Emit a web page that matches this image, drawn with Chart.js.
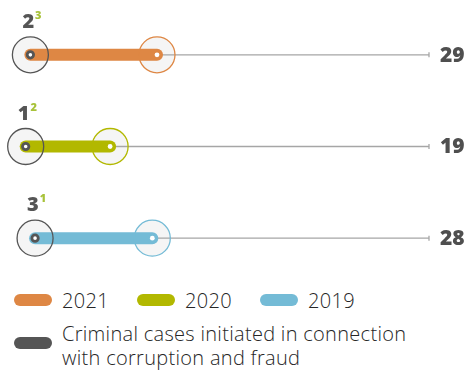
<!DOCTYPE html>
<html>
<head>
<meta charset="utf-8">
<script src="https://cdn.jsdelivr.net/npm/chart.js@4"></script>
<style>
  body { margin: 0; background: #fff; font-family: "Open Sans", "Noto Sans", sans-serif; }
  #wrap { position: relative; width: 470px; height: 284px; }
  #legend { position: absolute; left: 0; top: 284px; width: 470px; }
  .item { position: absolute; display: flex; align-items: flex-start; color: #262626; font-size: 20px; font-weight: 300; line-height: 24px; letter-spacing: 0.3px; }
  .pill { width: 38px; height: 12px; border-radius: 6px; margin-right: 10px; flex: none; }
  .txt { white-space: pre-line; }
</style>
</head>
<body>
<div id="wrap"><canvas id="chart"></canvas></div>
<div id="legend"></div>
<script>
// years shown top to bottom
var years = ['2021', '2020', '2019'];
// total cases per year (thick bar end, number at the right)
var totals = [29, 19, 28];
// criminal cases initiated in connection with corruption and fraud
var criminal = [2, 1, 3];
// footnote markers next to the criminal case counts
var footnotes = ['3', '2', '1'];
var criminalLabel = 'Criminal cases initiated in connection\nwith corruption and fraud';

var yearColors = ['#de8744', '#b2b800', '#74bbd6'];
var darkColor = '#555555';
var lineColor = '#a6a6a6';
var noteColor = '#a8c23a';
var AXIS_MAX = 87;

var datasets = [];
for (var i = 0; i < years.length; i++) {
  var y = years[i];
  var start = { x: criminal[i], y: y };
  var end = { x: totals[i], y: y };

  // faint disc behind the two rings
  datasets.push({
    data: [start, end], showLine: false, clip: false, order: 9,
    pointRadius: 18, pointBorderWidth: 0,
    pointBackgroundColor: 'rgba(225,225,225,0.35)'
  });
  // thin grey guide to the right
  datasets.push({
    data: [end, { x: AXIS_MAX, y: y }], clip: false, order: 8,
    borderColor: lineColor, borderWidth: 1.3,
    pointRadius: [0, 2.5], pointStyle: 'line', rotation: 90,
    pointBorderColor: lineColor, pointBorderWidth: 1.3
  });
  // thick rounded bar from criminal cases to the total
  datasets.push({
    data: [start, end], clip: false, order: 7,
    borderColor: yearColors[i], borderWidth: 12, borderCapStyle: 'round',
    pointRadius: 0
  });
  // ring outlines
  datasets.push({
    data: [start, end], showLine: false, clip: false, order: 6,
    pointRadius: 18, pointBorderWidth: 1.3,
    pointBorderColor: [darkColor, yearColors[i]],
    pointBackgroundColor: 'rgba(0,0,0,0)'
  });
  // inner dots
  datasets.push({
    data: [start, end], showLine: false, clip: false, order: 5,
    pointRadius: [3.2, 2.4], pointBorderWidth: [2.8, 0],
    pointBorderColor: [darkColor, '#fff'],
    pointBackgroundColor: '#fff'
  });
}

// criminal case counts above the rings and totals at the right
var textPlugin = {
  id: 'rowText',
  afterDatasetsDraw: function (chart) {
    var ctx = chart.ctx;
    var xs = chart.scales.x, ys = chart.scales.y;
    ctx.save();
    for (var i = 0; i < years.length; i++) {
      var cy = ys.getPixelForValue(i);
      var cx = xs.getPixelForValue(criminal[i]);
      ctx.textBaseline = 'alphabetic';
      ctx.textAlign = 'left';
      ctx.fillStyle = darkColor;
      ctx.font = '800 20px "Open Sans", sans-serif';
      var txt = String(criminal[i]);
      var w = ctx.measureText(txt).width;
      ctx.fillText(txt, cx - 8, cy - 27);
      ctx.fillStyle = noteColor;
      ctx.font = '800 11px "Open Sans", sans-serif';
      ctx.fillText(footnotes[i], cx - 8 + w + 1, cy - 36);

      ctx.fillStyle = '#4f4f4f';
      ctx.font = '800 21px "Open Sans", sans-serif';
      ctx.textBaseline = 'middle';
      ctx.fillText(String(totals[i]), chart.chartArea.right + 11, cy + 1);
    }
    ctx.restore();
  }
};

var chart = new Chart(document.getElementById('chart').getContext('2d'), {
  type: 'line',
  data: { datasets: datasets },
  options: {
    responsive: true,
    maintainAspectRatio: false,
    animation: false,
    layout: { autoPadding: false, padding: { left: 21, right: 41, top: 9, bottom: 0 } },
    scales: {
      x: { type: 'linear', min: 0, max: AXIS_MAX, display: false },
      y: { type: 'category', labels: years, offset: true, display: false }
    },
    plugins: { legend: { display: false }, tooltip: { enabled: false } }
  },
  plugins: [textPlugin]
});

// legend below the chart
var legend = document.getElementById('legend');
var legendItems = [];
for (var j = 0; j < years.length; j++) {
  legendItems.push({ text: years[j], color: yearColors[j], left: 14 + j * 123, top: 5 });
}
legendItems.push({ text: criminalLabel, color: darkColor, left: 14, top: 38 });
legendItems.forEach(function (it) {
  var el = document.createElement('div');
  el.className = 'item';
  el.style.left = it.left + 'px';
  el.style.top = it.top + 'px';
  var pill = document.createElement('span');
  pill.className = 'pill';
  pill.style.background = it.color;
  pill.style.marginTop = (it.top > 20 ? 15 : 5) + 'px';
  var t = document.createElement('span');
  t.className = 'txt';
  t.textContent = it.text;
  el.appendChild(pill);
  el.appendChild(t);
  legend.appendChild(el);
});
</script>
</body>
</html>
